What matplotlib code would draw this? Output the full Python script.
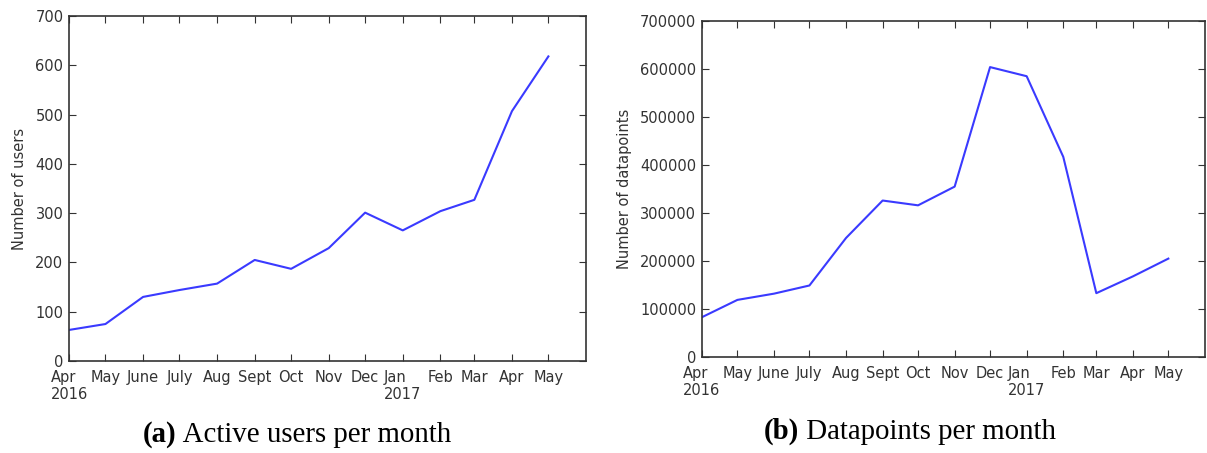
import datetime as dt
import matplotlib
matplotlib.use("Agg")
import matplotlib.pyplot as plt

plt.rcParams["font.family"] = ["DejaVu Sans"]

# ── Data ──────────────────────────────────────────────────────────────────────
months = [dt.date(2016, m, 1) for m in range(4, 13)] + [dt.date(2017, m, 1) for m in range(1, 6)]
month_labels = ["Apr\n2016", "May", "June", "July", "Aug", "Sept", "Oct", "Nov",
                "Dec", "Jan\n2017", "Feb", "Mar", "Apr", "May"]
users = [63, 75, 130, 144, 157, 205, 187, 229, 301, 265, 304, 327, 507, 618]
datapoints = [83000, 119000, 132000, 149000, 248000, 326000, 316000, 355000,
              604000, 585000, 417000, 133000, 168000, 205000]

LINE = "#3a3aff"
TEXT = "#333333"
SPINE = "#333333"

fig = plt.figure(figsize=(12.07, 4.53), dpi=100, facecolor="white")
ax1 = fig.add_axes([0.0572, 0.2031, 0.4283, 0.7616])
ax2 = fig.add_axes([0.5816, 0.2119, 0.4167, 0.7417])


def style(ax, values, ylim, yticks, ylabel, labelpad):
    ax.plot(months, values, color=LINE, linewidth=1.5)
    ax.set_xlim(dt.date(2016, 4, 1), dt.date(2017, 6, 1))
    ax.set_ylim(*ylim)
    ax.set_xticks(months)
    ax.set_xticklabels(month_labels, fontsize=10.5, color=TEXT, ma="left")
    ax.set_yticks(yticks)
    ax.set_yticklabels([str(v) for v in yticks], fontsize=10.5, color=TEXT)
    ax.set_ylabel(ylabel, fontsize=10.5, color=TEXT, labelpad=labelpad)
    ax.tick_params(direction="in", length=5, width=0.8, color=SPINE,
                   top=True, right=True, pad=4)
    ax.tick_params(axis="x", pad=6.5)
    for s in ax.spines.values():
        s.set_color(SPINE)
        s.set_linewidth(1.2)


style(ax1, users, (0, 700), list(range(0, 701, 100)), "Number of users", 6)
style(ax2, datapoints, (0, 700000), list(range(0, 700001, 100000)),
      "Number of datapoints", 6)

# ── Captions: bold "(a)" followed by regular text ─────────────────────────────
cap = dict(fontsize=20.8, family="Liberation Serif", color="black")


def caption(x_left, y, tag, rest):
    t = fig.text(x_left, y, tag, fontweight="bold", ha="left", va="baseline", **cap)
    fig.canvas.draw()
    ax1.annotate(rest, xy=(1, 0), xycoords=t, ha="left", va="bottom",
                 annotation_clip=False, **cap)


caption(0.1185, 0.024, "(a)", " Active users per month")
caption(0.633, 0.031, "(b)", " Datapoints per month")

fig.savefig("out.png", dpi=100, facecolor="white")
